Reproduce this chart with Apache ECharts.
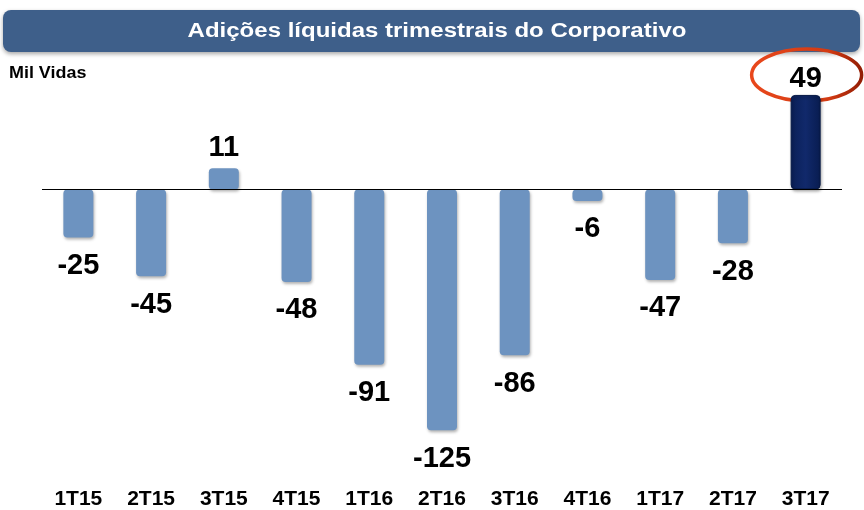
<!DOCTYPE html>
<html>
<head>
<meta charset="utf-8">
<script src="https://cdn.jsdelivr.net/npm/echarts@6/dist/echarts.min.js"></script>
<style>
  html, body { margin: 0; padding: 0; background: #fff; }
  #main { width: 864px; height: 510px; }
</style>
</head>
<body>
<div id="main"></div>
<script>
var categories = ['1T15', '2T15', '3T15', '4T15', '1T16', '2T16', '3T16', '4T16', '1T17', '2T17', '3T17'];
var values = [-25, -45, 11, -48, -91, -125, -86, -6, -47, -28, 49];
var highlightIndex = 10;

var FONT = '"Liberation Sans", Arial, sans-serif';
var LIGHT = '#6d93c0';

var dom = document.getElementById('main');
var myChart = echarts.init(dom, null, { renderer: 'canvas' });

var barData = values.map(function (v, i) {
  var item = {
    value: v,
    label: v < 0 ? { position: 'bottom', distance: 14 } : { position: 'top', distance: 6 }
  };
  if (i === highlightIndex) {
    item.itemStyle = {
      color: new echarts.graphic.LinearGradient(0, 0, 1, 0, [
        { offset: 0, color: '#0a1f57' },
        { offset: 0.5, color: '#11296b' },
        { offset: 1, color: '#081c50' }
      ]),
      borderColor: '#061845',
      borderWidth: 1
    };
    item.label.distance = 1;
  }
  return item;
});

var option = {
  animation: false,
  backgroundColor: '#fff',
  grid: { left: 42, right: 22, top: 93, height: 347 },
  xAxis: {
    type: 'category',
    data: categories,
    axisLine: { show: false, onZero: false },
    axisTick: { show: false },
    axisLabel: {
      margin: 49,
      color: '#000',
      fontFamily: FONT,
      fontWeight: 'bold',
      fontSize: 21
    }
  },
  yAxis: {
    type: 'value',
    min: -130,
    max: 50,
    show: false,
    splitLine: { show: false }
  },
  series: [{
    type: 'bar',
    barWidth: 30,
    data: barData,
    itemStyle: {
      color: LIGHT,
      borderRadius: 4,
      shadowColor: 'rgba(0,0,0,0.3)',
      shadowBlur: 3,
      shadowOffsetX: 1,
      shadowOffsetY: 2
    },
    label: {
      show: true,
      color: '#000',
      fontFamily: FONT,
      fontWeight: 'bold',
      fontSize: 29,
      formatter: '{c}'
    },
    markLine: {
      silent: true,
      symbol: 'none',
      label: { show: false },
      lineStyle: { color: '#000', width: 1, type: 'solid' },
      data: [{ yAxis: 0 }]
    }
  }]
};

myChart.setOption(option);

// title bar, unit label and the ellipse around the last value
var top49 = myChart.convertToPixel({ seriesIndex: 0 }, [highlightIndex, values[highlightIndex]]);
myChart.setOption({
  graphic: [
    {
      type: 'rect',
      shape: { x: 3, y: 10, width: 857, height: 42, r: 8 },
      style: {
        fill: '#3e5f8a',
        shadowColor: 'rgba(0,0,0,0.35)',
        shadowBlur: 4,
        shadowOffsetY: 2
      }
    },
    {
      type: 'text',
      x: 437,
      y: 31,
      scaleX: 1.2,
      style: {
        text: 'Adições líquidas trimestrais do Corporativo',
        fill: '#fff',
        font: 'bold 20px ' + FONT,
        textAlign: 'center',
        textVerticalAlign: 'middle'
      }
    },
    {
      type: 'text',
      x: 9,
      y: 74,
      scaleX: 1.12,
      style: {
        text: 'Mil Vidas',
        fill: '#000',
        font: 'bold 16px ' + FONT,
        textVerticalAlign: 'middle'
      }
    },
    {
      type: 'ellipse',
      shape: { cx: top49[0] + 1, cy: top49[1] - 20, rx: 55, ry: 26 },
      style: {
        fill: 'none',
        lineWidth: 3.5,
        stroke: new echarts.graphic.LinearGradient(0, 0, 1, 0, [
          { offset: 0, color: '#e9481c' },
          { offset: 0.7, color: '#d23a12' },
          { offset: 1, color: '#8e1c04' }
        ])
      }
    }
  ]
});

window.addEventListener('resize', myChart.resize);
</script>
</body>
</html>
